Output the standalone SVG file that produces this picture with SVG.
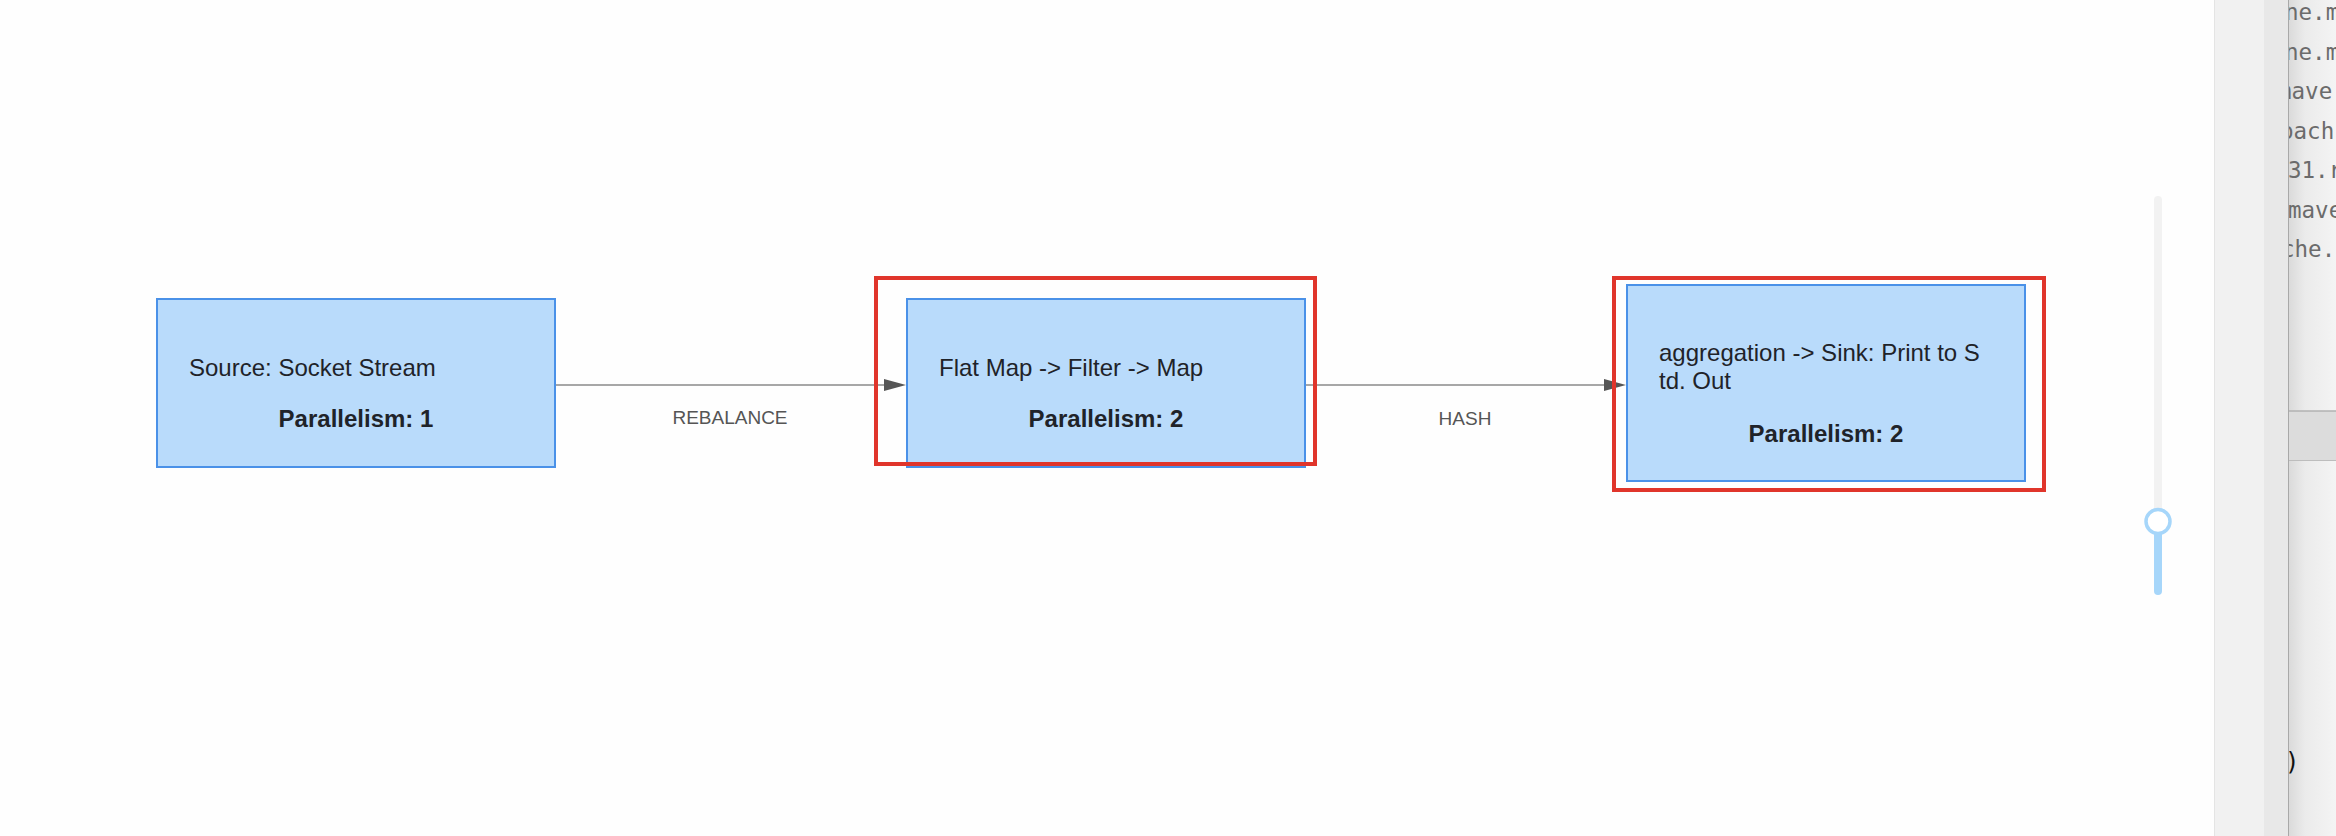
<svg xmlns="http://www.w3.org/2000/svg" width="2336" height="836" viewBox="0 0 2336 836">
  <style>
    .node rect.box { fill: #b9dbfb; stroke: #4a91e8; stroke-width: 2; }
    .node text { font-family: "Liberation Sans", Arial, sans-serif; font-size: 24px; fill: #1f2329; }
    .node text.par { font-weight: bold; text-anchor: middle; }
    .hl { fill: none; stroke: #e0352b; stroke-width: 4; }
    .edge line { stroke: #8a8a8a; stroke-width: 1.5; }
    .edge polygon { fill: #555555; }
    .elabel { font-family: "Liberation Sans", Arial, sans-serif; font-size: 19px; fill: #555555; text-anchor: middle; }
    .ptext { font-family: "DejaVu Sans Mono", monospace; font-size: 22.5px; fill: #6b6b6b; }
  </style>
  <defs>
    <linearGradient id="pg" x1="0" y1="0" x2="1" y2="0">
      <stop offset="0" stop-color="#d9d9d9"/>
      <stop offset="0.35" stop-color="#ebebeb"/>
      <stop offset="1" stop-color="#f4f4f4"/>
    </linearGradient>
    <clipPath id="pc"><rect x="2289" y="0" width="47" height="836"/></clipPath>
  </defs>
  <rect x="0" y="0" width="2336" height="836" fill="#fefefe"/>

  <!-- zoom slider -->
  <g id="slider">
    <line x1="2158" y1="200" x2="2158" y2="508" stroke="#f2f2f2" stroke-width="8" stroke-linecap="round"/>
    <line x1="2158" y1="534" x2="2158" y2="591" stroke="#a6d6fa" stroke-width="8" stroke-linecap="round"/>
    <circle cx="2158" cy="521.5" r="12" fill="#ffffff" stroke="#a6d6fa" stroke-width="3.5"/>
  </g>

  <!-- side panel -->
  <g id="panel">
    <rect x="2214" y="0" width="50" height="836" fill="#f1f1f1"/>
    <line x1="2214.5" y1="0" x2="2214.5" y2="836" stroke="#e4e4e4" stroke-width="1"/>
    <rect x="2264" y="0" width="24" height="836" fill="#e8e8e8"/>
    <rect x="2288" y="0" width="48" height="836" fill="url(#pg)"/>
    <rect x="2288" y="411" width="48" height="50" fill="#dcdcdc"/>
    <line x1="2288" y1="411" x2="2336" y2="411" stroke="#b2b2b2" stroke-width="1.5"/>
    <line x1="2288" y1="460.5" x2="2336" y2="460.5" stroke="#bdbdbd" stroke-width="1"/>
    <line x1="2288.5" y1="0" x2="2288.5" y2="836" stroke="#a8a8a8" stroke-width="1"/>
    <g clip-path="url(#pc)">
      <text class="ptext" x="2285" y="20">ne.m</text>
      <text class="ptext" x="2285" y="60">ne.m</text>
      <text class="ptext" x="2278" y="99">mave</text>
      <text class="ptext" x="2280" y="139">pach</text>
      <text class="ptext" x="2288" y="178">31.r</text>
      <text class="ptext" x="2288" y="218">mave</text>
      <text class="ptext" x="2281" y="257">che.r</text>
      <text x="2285" y="770" font-family="DejaVu Sans Mono, monospace" font-size="24" fill="#111111">)</text>
    </g>
  </g>

  <!-- connectors -->
  <g id="edges">
    <g class="edge" id="e1">
      <line x1="555" y1="385" x2="886" y2="385"/>
      <polygon points="906,385 884,379 884,391"/>
      <text class="elabel" x="730" y="424">REBALANCE</text>
    </g>
    <g class="edge" id="e2">
      <line x1="1305" y1="385" x2="1606" y2="385"/>
      <polygon points="1626,385 1604,379 1604,391"/>
      <text class="elabel" x="1465" y="425">HASH</text>
    </g>
  </g>

  <!-- nodes -->
  <g class="node" id="n1">
    <rect class="box" x="157" y="299" width="398" height="168"/>
    <text x="189" y="376">Source: Socket Stream</text>
    <text class="par" x="356" y="427">Parallelism: 1</text>
  </g>
  <g class="node" id="n2">
    <rect class="box" x="907" y="299" width="398" height="168"/>
    <text x="939" y="376">Flat Map -&gt; Filter -&gt; Map</text>
    <text class="par" x="1106" y="427">Parallelism: 2</text>
  </g>
  <g class="node" id="n3">
    <rect class="box" x="1627" y="285" width="398" height="196"/>
    <text x="1659" y="361">aggregation -&gt; Sink: Print to S</text>
    <text x="1659" y="389">td. Out</text>
    <text class="par" x="1826" y="442">Parallelism: 2</text>
  </g>

  <!-- highlight frames -->
  <g id="highlights">
    <rect class="hl" x="876" y="278" width="439" height="186"/>
    <rect class="hl" x="1614" y="278" width="430" height="212"/>
  </g>
</svg>
